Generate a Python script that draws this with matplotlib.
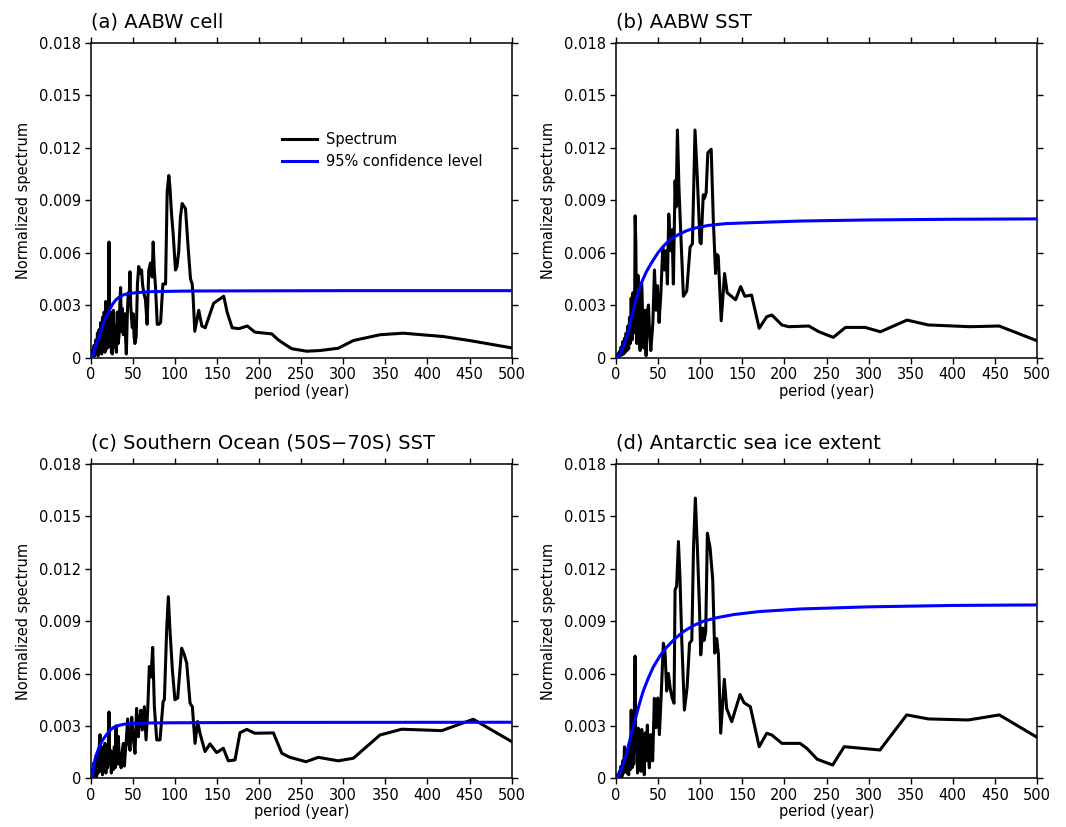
import numpy as np
import matplotlib
matplotlib.use("Agg")
import matplotlib.pyplot as plt

plt.rcParams['font.family'] = ['DejaVu Sans']

# ---- spectra (period in years, normalized spectrum in units of 1e-3) ----
period_a = [1, 2, 3, 4, 5, 6, 7, 8, 9, 10, 11, 12, 13, 14, 15, 16, 17, 17.8, 19, 20, 21, 21.7,
            22.5, 23.5, 24.5, 25.8, 27, 28, 29, 30.5, 31.6, 32.5, 33.6, 34.5, 35.5, 36.5, 37.5,
            38.7, 39.5, 40.7, 41.5, 42.3, 43.5, 44.6, 45.5, 46.6, 47.5, 48.5, 49.4, 50.5, 51.5,
            52.5, 54, 55.5, 57, 58.5, 60.4, 61.5, 63, 65, 66, 67, 68, 69, 71, 72, 73, 74.2, 75.5,
            77, 79, 81, 83, 85.7, 88.9, 90.8, 92.8, 94, 96, 98, 100.7, 102.5, 104.6, 106.5, 108.6,
            112.6, 115.7, 118.5, 120.5, 121.5, 123.6, 128.3, 132, 136, 146, 158, 162, 168, 176,
            186, 195, 215, 223, 231, 239, 256.7, 272.5, 294, 312, 343.6, 371, 418.6, 450, 500]
spec_a = [0.1, 0.4, 0.1, 0.7, 0.1, 1.0, 0.2, 1.4, 0.1, 1.6, 0.3, 2.0, 0.2, 2.3, 0.4, 2.6, 0.3, 3.2,
          0.5, 2.4, 0.6, 6.6, 1.0, 2.6, 0.3, 0.2, 2.7, 0.6, 1.8, 0.3, 2.6, 0.8, 1.2, 2.9, 4.0, 1.5,
          2.8, 1.3, 2.2, 2.5, 1.0, 0.2, 2.5, 3.7, 3.0, 4.9, 3.0, 2.2, 1.7, 2.5, 1.2, 0.8, 1.2, 4.2,
          5.2, 4.8, 5.0, 4.2, 3.7, 3.3, 2.6, 1.9, 3.5, 5.0, 5.4, 5.0, 4.6, 6.6, 5.0, 4.0, 1.9, 1.9,
          2.0, 4.2, 4.2, 9.5, 10.4, 9.8, 8.2, 7.0, 5.0, 5.2, 6.1, 8.0, 8.8, 8.5, 6.3, 4.5, 4.2, 3.6,
          1.5, 2.7, 1.8, 1.7, 3.1, 3.5, 2.6, 1.7, 1.65, 1.8, 1.45, 1.35, 1.0, 0.74, 0.5, 0.36, 0.4,
          0.53, 0.97, 1.3, 1.39, 1.2, 0.97, 0.55]

period_b = [1, 2, 3, 4, 5, 6, 7, 8, 9, 10, 11, 12, 13, 14, 15, 16, 17, 18, 19, 20, 21, 22, 22.7,
            23.5, 24.7, 26, 27.3, 28.6, 30.6, 32.6, 34.5, 35.7, 37, 38.5, 40, 41.3, 43.7, 45.6,
            47.6, 49.1, 51.1, 53.1, 55.5, 57.5, 59.4, 61, 62.6, 65, 66.5, 68.1, 70.1, 71.3, 72.9,
            74.8, 76.8, 80, 84, 87.9, 90.7, 93.8, 96.5, 99.7, 101, 103.6, 105, 107, 109, 113,
            115.5, 118.2, 119.4, 121.4, 124.9, 128.9, 132, 142, 148, 153, 161, 170, 179, 185,
            197, 205, 229, 241, 258, 272.5, 296, 314, 345.6, 371, 420.6, 455, 500]
spec_b = [0.05, 0.2, 0.05, 0.35, 0.1, 0.6, 0.15, 0.9, 0.2, 1.1, 0.3, 1.4, 0.4, 1.8, 0.5, 2.3, 0.8,
          3.4, 1.0, 3.7, 1.4, 2.4, 8.1, 6.5, 0.8, 4.7, 1.5, 0.4, 4.2, 0.55, 2.7, 0.1, 2.5, 3.0, 1.2,
          0.4, 1.95, 5.0, 2.7, 4.1, 2.0, 3.5, 6.3, 5.0, 6.1, 4.2, 8.2, 6.1, 7.3, 4.2, 10.1, 8.6,
          13.0, 9.6, 7.2, 3.5, 3.8, 6.3, 6.5, 13.0, 10.3, 6.6, 6.5, 9.3, 9.1, 9.4, 11.7, 11.9, 7.9,
          4.8, 5.9, 5.8, 2.1, 4.8, 3.7, 3.3, 4.05, 3.5, 3.57, 1.67, 2.33, 2.43, 1.86, 1.76, 1.8,
          1.47, 1.15, 1.72, 1.72, 1.47, 2.14, 1.86, 1.76, 1.8, 0.96]

period_c = [1, 2, 3, 4, 5, 6, 7, 8, 9, 10, 11, 12, 13, 14, 15, 16, 17, 18, 19, 20, 21, 21.7, 22.5,
            23.5, 24.5, 25.5, 27, 28, 29, 30.1, 31, 32, 32.8, 34, 35, 36.1, 37.5, 38.8, 40, 40.8,
            42, 43.9, 45, 46.7, 48.7, 50.5, 52.6, 54.5, 55.5, 56.6, 58, 59.7, 61.3, 63.7, 65.7,
            67.7, 69.6, 71.6, 73.6, 75.6, 78.4, 82.3, 86, 87.5, 90.2, 92.2, 94, 97, 100, 103.3,
            108, 111, 114, 118, 120.7, 123.9, 127, 129.8, 135.7, 141.7, 149.6, 157.5, 163.4,
            171.4, 177.3, 185.3, 195, 217, 227, 236.7, 255.7, 270.3, 294, 312, 343.6, 369.4,
            416.9, 454.4, 500]
spec_c = [0.1, 0.5, 0.1, 0.9, 0.2, 1.2, 0.1, 1.5, 0.3, 1.7, 2.5, 0.4, 1.8, 0.2, 1.6, 0.5, 2.0, 0.3,
          1.7, 0.6, 1.2, 3.8, 0.8, 1.6, 0.3, 1.5, 0.5, 1.8, 0.6, 3.0, 0.8, 1.5, 2.4, 0.8, 1.4, 0.6,
          1.6, 2.0, 0.7, 1.3, 2.0, 3.4, 2.1, 1.6, 3.5, 2.3, 1.43, 4.0, 3.2, 2.38, 3.4, 3.9, 2.77,
          4.1, 2.2, 3.9, 6.4, 5.8, 7.5, 4.1, 2.2, 2.2, 4.4, 4.5, 8.5, 10.4, 8.6, 6.2, 4.5, 4.6,
          7.45, 7.1, 6.6, 4.3, 4.1, 2.0, 3.25, 2.58, 1.53, 1.97, 1.47, 1.72, 1.0, 1.05, 2.61, 2.8,
          2.58, 2.6, 1.43, 1.2, 0.95, 1.2, 1.0, 1.15, 2.48, 2.81, 2.73, 3.38, 2.1]

period_d = [1, 2, 3, 4, 5, 6, 7, 8, 9, 10, 11, 12, 13, 14, 15, 16, 17, 18, 19, 20, 21, 22.6, 23.5,
            24.5, 25.5, 26.5, 27.5, 28.5, 29.5, 30.5, 31.5, 32.5, 33.5, 34.5, 35.5, 37.2, 38.5,
            39.6, 41.2, 42.5, 43.5, 45.5, 47.5, 49.5, 51.5, 53.4, 56.2, 58.2, 60.2, 62.2, 64.2,
            66.6, 68.9, 70.1, 72, 74.1, 76, 78, 81.2, 84.4, 87.3, 90, 92, 94.2, 96.6, 99, 100.6,
            103, 104.6, 106.5, 108.5, 111.7, 114.8, 117.2, 119.6, 121.6, 124.3, 128.6, 131.4,
            137.4, 147.3, 152, 159.5, 170, 179, 185, 197, 218.5, 226.5, 239, 257.3, 271, 313.5,
            345.2, 371, 418.4, 455.2, 500]
spec_d = [0.05, 0.2, 0.05, 0.4, 0.1, 0.7, 0.1, 1.0, 0.3, 1.8, 0.4, 1.5, 0.3, 1.3, 0.2, 2.0, 0.5,
          3.9, 0.6, 2.8, 0.8, 7.0, 1.5, 2.6, 0.3, 2.87, 0.5, 2.7, 0.4, 2.8, 0.6, 2.5, 0.2, 2.6, 1.0,
          3.05, 1.2, 0.6, 2.5, 1.5, 1.0, 4.58, 2.9, 4.6, 2.5, 4.5, 7.74, 7.2, 5.0, 6.0, 5.2, 4.6,
          4.3, 10.8, 11.0, 13.56, 11.4, 8.0, 3.91, 5.2, 7.74, 7.9, 13.2, 16.05, 13.2, 9.9, 7.07,
          8.6, 7.9, 8.4, 14.04, 13.2, 11.4, 7.17, 8.0, 7.1, 2.58, 5.67, 4.0, 3.24, 4.8, 4.33, 4.1,
          1.81, 2.58, 2.48, 2.0, 2.0, 1.72, 1.09, 0.76, 1.81, 1.62, 3.63, 3.4, 3.34, 3.63, 2.35]

# ---- 95% confidence levels (period in years, units of 1e-3) ----
conf_period_a = [1, 3, 6, 10, 14, 18, 22, 26, 30, 35, 40, 46, 55, 70, 90, 120, 200, 300, 500]
conf_a = [0, 0.15, 0.7, 1.18, 1.8, 2.3, 2.7, 3.05, 3.3, 3.5, 3.6, 3.66, 3.71, 3.76, 3.78, 3.8,
          3.81, 3.82, 3.82]

conf_period_b = [1, 3, 6, 10, 14, 18, 22, 26, 30, 36, 42, 50, 58, 66, 74, 84, 94, 110, 130, 170,
                 220, 300, 400, 500]
conf_b = [0, 0.05, 0.3, 0.8, 1.4, 2.2, 3.0, 3.7, 4.25, 4.9, 5.4, 6.0, 6.45, 6.8, 7.02, 7.25, 7.4,
          7.55, 7.65, 7.72, 7.8, 7.86, 7.9, 7.92]

conf_period_c = [1, 2, 4, 6, 9, 12, 15, 18, 22, 26, 30, 35, 40, 50, 70, 100, 200, 500]
conf_c = [0, 0.2, 0.85, 1.25, 1.65, 2.0, 2.25, 2.45, 2.7, 2.88, 2.98, 3.05, 3.1, 3.14, 3.17, 3.18,
          3.2, 3.21]

conf_period_d = [1, 4, 8, 12, 16, 20, 24, 28, 32, 38, 44, 52, 60, 70, 80, 92, 104, 120, 140, 170,
                 220, 300, 400, 500]
conf_d = [0, 0.25, 0.75, 1.35, 2.1, 2.9, 3.6, 4.3, 4.95, 5.7, 6.35, 7.0, 7.5, 8.0, 8.4, 8.75, 9.0,
          9.2, 9.38, 9.55, 9.7, 9.82, 9.9, 9.93]

titles = ['(a) AABW cell', '(b) AABW SST', '(c) Southern Ocean (50S\u221270S) SST',
          '(d) Antarctic sea ice extent']

x_ticks = [0, 50, 100, 150, 200, 250, 300, 350, 400, 450, 500]
y_ticks = [0, 0.003, 0.006, 0.009, 0.012, 0.015, 0.018]
y_tick_labels = ['0', '0.003', '0.006', '0.009', '0.012', '0.015', '0.018']

panels = [
    (period_a, spec_a, conf_period_a, conf_a),
    (period_b, spec_b, conf_period_b, conf_b),
    (period_c, spec_c, conf_period_c, conf_c),
    (period_d, spec_d, conf_period_d, conf_d),
]

rects = [
    (0.0851, 0.5677, 0.3949, 0.3809),
    (0.5779, 0.5677, 0.3949, 0.3809),
    (0.0851, 0.0589, 0.3949, 0.3800),
    (0.5779, 0.0589, 0.3949, 0.3800),
]

fig = plt.figure(figsize=(10.66, 8.27), dpi=100)

for i, ((p, s, cp, c), rect, title) in enumerate(zip(panels, rects, titles)):
    ax = fig.add_axes(rect)
    ax.plot(p, np.array(s) * 1e-3, color='black', lw=2.2, solid_joinstyle='round',
            label='Spectrum', zorder=3)
    ax.plot(cp, np.array(c) * 1e-3, color='#0000ff', lw=2.2, label='95% confidence level',
            zorder=4)
    ax.set_xlim(0, 500)
    ax.set_ylim(0, 0.018)
    ax.set_xticks(x_ticks)
    ax.set_xticklabels([str(t) for t in x_ticks])
    ax.set_yticks(y_ticks)
    ax.set_yticklabels(y_tick_labels)
    ax.tick_params(direction='out', length=4, width=1, top=True, right=True,
                   labeltop=False, labelright=False, labelsize=10.5, pad=3)
    for sp in ax.spines.values():
        sp.set_linewidth(1.1)
    ax.set_xlabel('period (year)', fontsize=10.5, labelpad=1)
    ax.set_ylabel('Normalized spectrum', fontsize=10.5, labelpad=6)
    ax.set_title(title, loc='left', fontsize=14, pad=11)
    if i == 0:
        ax.legend(loc='upper left', bbox_to_anchor=(0.44, 0.733), frameon=False,
                  fontsize=10.5, handlelength=2.4, handletextpad=0.6, borderaxespad=0,
                  labelspacing=0.45)

fig.savefig('out.png', dpi=100)
